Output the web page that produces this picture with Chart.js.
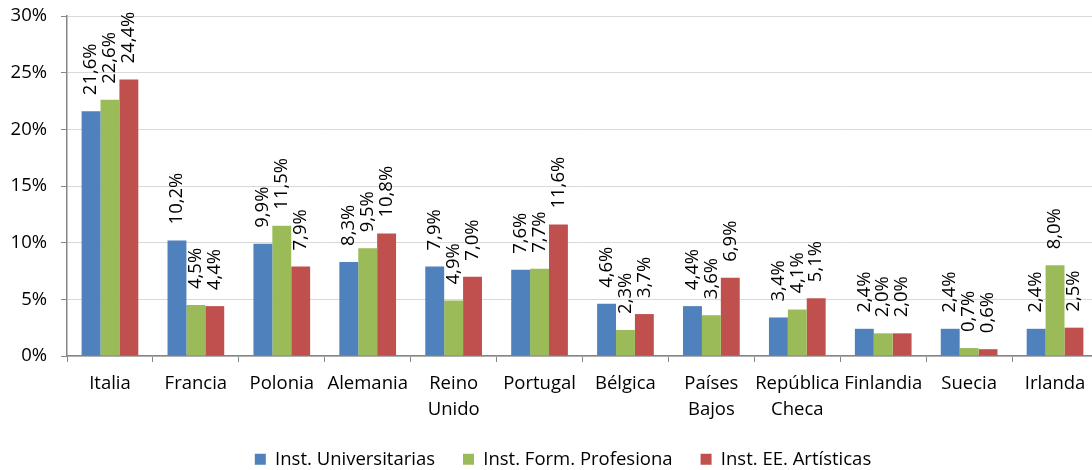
<!DOCTYPE html>
<html>
<head>
<meta charset="utf-8">
<script src="https://cdn.jsdelivr.net/npm/chart.js@4"></script>
<style>
  html, body { margin: 0; padding: 0; overflow: hidden; background: #fff; }
  #wrap { width: 1100px; height: 470px; }
</style>
</head>
<body>
<div id="wrap"><canvas id="myChart"></canvas></div>
<script>
// Categories and series values (percent)
let countries = ['Italia', 'Francia', 'Polonia', 'Alemania', ['Reino', 'Unido'], 'Portugal',
                 'Bélgica', ['Países', 'Bajos'], ['República', 'Checa'], 'Finlandia', 'Suecia', 'Irlanda'];
let universitarias = [21.6, 10.2, 9.9, 8.3, 7.9, 7.6, 4.6, 4.4, 3.4, 2.4, 2.4, 2.4];
let formProfesional = [22.6, 4.5, 11.5, 9.5, 4.9, 7.7, 2.3, 3.6, 4.1, 2.0, 0.7, 8.0];
let artisticas = [24.4, 4.4, 7.9, 10.8, 7.0, 11.6, 3.7, 6.9, 5.1, 2.0, 0.6, 2.5];
let yTicks = [0, 5, 10, 15, 20, 25, 30];

let FONT = "'Open Sans', 'DejaVu Sans', sans-serif";

// format 21.6 -> "21,6%"
function pct(v) {
    return v.toFixed(1).replace('.', ',') + '%';
}

// draws rotated value labels above each bar
const barLabels = {
    id: 'barLabels',
    afterDatasetsDraw(chart) {
        const ctx = chart.ctx;
        ctx.save();
        ctx.font = '18.5px ' + FONT;
        ctx.fillStyle = '#000';
        ctx.textAlign = 'left';
        ctx.textBaseline = 'middle';
        chart.data.datasets.forEach((ds, i) => {
            chart.getDatasetMeta(i).data.forEach((bar, j) => {
                ctx.save();
                ctx.translate(bar.x, bar.y - 16);
                ctx.rotate(-Math.PI / 2);
                ctx.fillText(pct(ds.data[j]), 0, 0);
                ctx.restore();
            });
        });
        ctx.restore();
    }
};

// nudge the legend to the right, like the original
const legendShift = {
    id: 'legendShift',
    afterLayout(chart) {
        const lg = chart.legend;
        lg.left += 14; lg.right += 14;
    }
};

let ctx = document.getElementById('myChart').getContext('2d');
let myChart = new Chart(ctx, {
    type: 'bar',
    data: {
        labels: countries,
        datasets: [
            { label: 'Inst. Universitarias', data: universitarias, backgroundColor: '#4F81BD' },
            { label: 'Inst. Form. Profesiona', data: formProfesional, backgroundColor: '#9BBB59' },
            { label: 'Inst. EE. Artísticas', data: artisticas, backgroundColor: '#C0504D' }
        ]
    },
    options: {
        responsive: true,
        maintainAspectRatio: false,
        animation: false,
        datasets: {
            bar: { categoryPercentage: 0.66, barPercentage: 1.0 }
        },
        layout: { padding: { left: 0, right: 2, top: 16, bottom: 0 } },
        plugins: {
            tooltip: { enabled: false },
            legend: {
                position: 'bottom',
                maxHeight: 48,
                labels: {
                    boxWidth: 11,
                    boxHeight: 11,
                    padding: 28,
                    color: '#000',
                    font: { family: FONT, size: 18.5 }
                }
            }
        },
        scales: {
            x: {
                afterFit: axis => { axis.height = 66; },
                grid: { drawOnChartArea: false, drawTicks: true, tickLength: 6, color: '#868686' },
                border: { color: '#868686', width: 1.5 },
                ticks: {
                    autoSkip: false,
                    maxRotation: 0,
                    padding: 9,
                    color: '#000',
                    font: { family: FONT, size: 18.5, lineHeight: 1.4 }
                }
            },
            y: {
                min: 0,
                max: 30,
                afterBuildTicks: axis => { axis.ticks = yTicks.map(v => ({ value: v })); },
                afterFit: axis => {
                    axis.width = 67;
                    axis.paddingTop = 0;
                    axis.paddingBottom = 0;
                },
                grid: { color: '#D9D9D9', tickColor: '#868686', tickLength: 6 },
                border: { color: '#868686', width: 1.5 },
                ticks: {
                    padding: 14,
                    color: '#000',
                    font: { family: FONT, size: 18.5 },
                    callback: v => v + '%'
                }
            }
        }
    },
    plugins: [barLabels, legendShift]
});
</script>
</body>
</html>
